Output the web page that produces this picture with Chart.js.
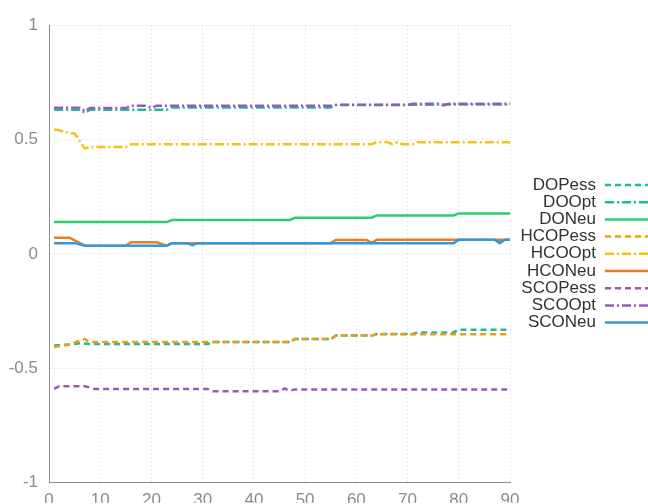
<!DOCTYPE html>
<html>
<head>
<meta charset="utf-8">
<script src="https://cdn.jsdelivr.net/npm/chart.js@4"></script>
<style>
  body { margin: 0; background: #fff; }
  canvas { display: block; }
</style>
</head>
<body>
<canvas id="myChart" width="648" height="504"></canvas>
<script>
// Breakpoints, lines are straight between them
const labels = ['DOPess', 'DOOpt', 'DONeu', 'HCOPess', 'HCOOpt', 'HCONeu', 'SCOPess', 'SCOOpt', 'SCONeu']
const xTicks = [0, 10, 20, 30, 40, 50, 60, 70, 80, 90]
const yTicks = [-1, -0.5, 0, 0.5, 1]

const doPessX = [1, 4, 6, 8, 31, 32, 47, 48, 55, 56, 63, 64, 71, 72, 79, 80, 89, 90]
const doPessY = [-0.40, -0.396, -0.39, -0.394, -0.394, -0.385, -0.385, -0.372, -0.372, -0.357, -0.357, -0.35, -0.35, -0.343, -0.343, -0.331, -0.331, -0.338]
const doOptX = [1, 6, 7, 8, 23, 24, 55, 56, 90]
const doOptY = [0.63, 0.63, 0.616, 0.63, 0.63, 0.64, 0.64, 0.651, 0.653]
const doNeuX = [1, 23, 24, 47, 48, 63, 64, 79, 80, 90]
const doNeuY = [0.139, 0.139, 0.148, 0.148, 0.158, 0.158, 0.168, 0.168, 0.177, 0.177]
const hcoPessX = [1, 4, 6, 7, 8, 47, 48, 55, 56, 63, 64, 90]
const hcoPessY = [-0.407, -0.396, -0.378, -0.372, -0.385, -0.385, -0.372, -0.372, -0.357, -0.357, -0.351, -0.351]
const hcoOptX = [1, 2, 3, 5, 7, 8, 15, 16, 63, 64, 66, 67, 68, 69, 71, 72, 90]
const hcoOptY = [0.543, 0.54, 0.533, 0.526, 0.46, 0.467, 0.467, 0.479, 0.479, 0.489, 0.489, 0.479, 0.487, 0.479, 0.479, 0.488, 0.488]
const hcoNeuX = [1, 4, 7, 15, 16, 21, 23, 24, 55, 56, 62, 63, 64, 90]
const hcoNeuY = [0.071, 0.071, 0.036, 0.036, 0.051, 0.051, 0.036, 0.047, 0.047, 0.061, 0.061, 0.047, 0.062, 0.062]
const scoPessX = [1, 2, 7, 9, 31, 32, 45, 46, 47, 48, 90]
const scoPessY = [-0.59, -0.578, -0.578, -0.59, -0.59, -0.6, -0.6, -0.588, -0.598, -0.592, -0.592]
const scoOptX = [1, 6, 7, 8, 15, 16, 19, 20, 21, 55, 56, 70, 71, 76, 77, 78, 90]
const scoOptY = [0.639, 0.639, 0.624, 0.637, 0.637, 0.647, 0.647, 0.638, 0.647, 0.647, 0.65, 0.65, 0.656, 0.656, 0.649, 0.656, 0.656]
const scoNeuX = [1, 5, 7, 23, 24, 27, 28, 29, 79, 80, 87, 88, 89, 90]
const scoNeuY = [0.047, 0.047, 0.036, 0.036, 0.047, 0.047, 0.038, 0.047, 0.047, 0.062, 0.062, 0.047, 0.062, 0.062]

const seriesX = [doPessX, doOptX, doNeuX, hcoPessX, hcoOptX, hcoNeuX, scoPessX, scoOptX, scoNeuX]
const seriesY = [doPessY, doOptY, doNeuY, hcoPessY, hcoOptY, hcoNeuY, scoPessY, scoOptY, scoNeuY]
const colors = ['#1abc9c', '#1abc9c', '#2ecc71', '#f39c12', '#f1c40f', '#e67e22', '#9b59b6', '#9b59b6', '#3498db']
const dashed = [6, 4]
const dashDot = [9, 3, 2, 3]
const dashes = [dashed, dashDot, [], dashed, dashDot, [], dashed, dashDot, []]

const datasets = labels.map((label, i) => ({
    label: label,
    data: seriesX[i].map((x, j) => ({ x: x, y: seriesY[i][j] })),
    borderColor: colors[i],
    borderDash: dashes[i],
    borderWidth: 2.5,
    pointRadius: 0,
    tension: 0,
    fill: false,
    order: labels.length - i      // later series on top, like the original
}))

// legend on the right: text first, then the line sample
const sideLegend = {
    id: 'sideLegend',
    afterDraw(chart) {
        const ctx = chart.ctx
        ctx.save()
        ctx.font = '17px "Liberation Sans", Arial, sans-serif'
        ctx.textAlign = 'right'
        ctx.textBaseline = 'middle'
        chart.data.datasets.forEach((ds, i) => {
            const y = 185 + i * 17.2
            ctx.fillStyle = '#333'
            ctx.fillText(ds.label, 596, y)
            ctx.strokeStyle = ds.borderColor
            ctx.lineWidth = 2.5
            ctx.setLineDash(ds.borderDash)
            ctx.beginPath()
            ctx.moveTo(605, y)
            ctx.lineTo(648, y)
            ctx.stroke()
        })
        ctx.restore()
    }
}

const ctx = document.getElementById('myChart')
const myChart = new Chart(ctx, {
    type: 'line',
    data: { datasets: datasets },
    options: {
        responsive: false,
        animation: false,
        layout: { padding: { top: 25, right: 138, left: 0, bottom: 0 } },
        plugins: {
            legend: { display: false },
            tooltip: { enabled: false }
        },
        scales: {
            x: {
                type: 'linear',
                min: 0,
                max: 90,
                afterBuildTicks: scale => { scale.ticks = xTicks.map(v => ({ value: v })) },
                afterFit: scale => { scale.height = 20 },
                grid: { color: '#d6d6d6', drawTicks: false },
                border: { color: '#8c8c8c', width: 1, dash: [1, 3] },
                ticks: {
                    padding: 7,
                    color: '#8a8a8a',
                    maxRotation: 0,
                    font: { family: '"Liberation Sans", Arial, sans-serif', size: 17 },
                    callback: v => String(v)
                }
            },
            y: {
                min: -1,
                max: 1,
                afterBuildTicks: scale => { scale.ticks = yTicks.map(v => ({ value: v })) },
                afterFit: scale => { scale.width = 49 },
                grid: { color: '#d6d6d6', drawTicks: false },
                border: { color: '#8c8c8c', width: 1, dash: [1, 3] },
                ticks: {
                    padding: 11,
                    color: '#8a8a8a',
                    font: { family: '"Liberation Sans", Arial, sans-serif', size: 17 },
                    callback: v => String(v)
                }
            }
        }
    },
    plugins: [sideLegend]
})
</script>
</body>
</html>
